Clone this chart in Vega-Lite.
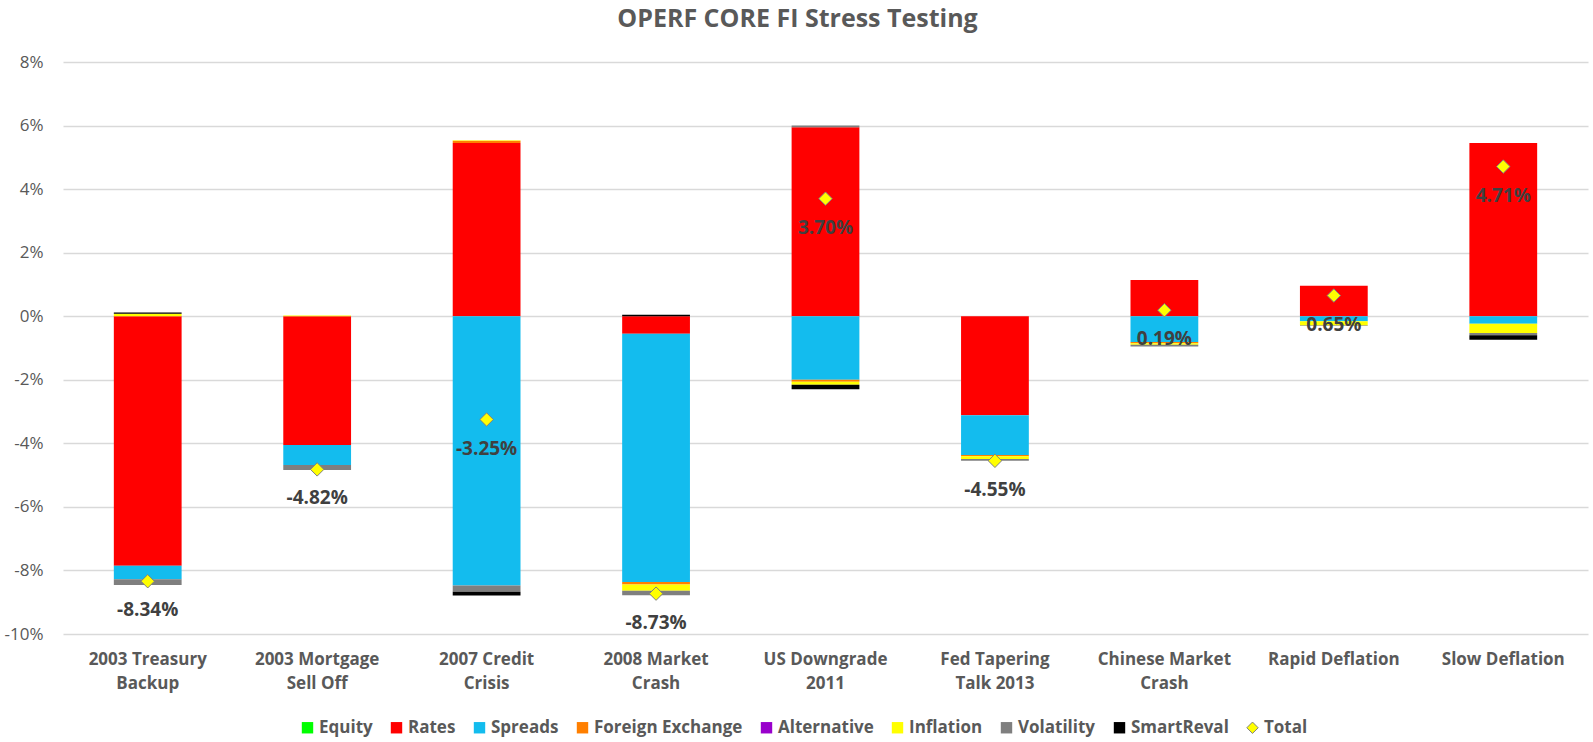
{
  "$schema": "https://vega.github.io/schema/vega-lite/v6.json",
  "autosize": {"type": "none"},
  "width": 1525,
  "height": 572,
  "padding": {"left": 63, "top": 62, "right": 5, "bottom": 108},
  "background": "white",
  "title": {"text": "OPERF CORE FI Stress Testing", "font": "Open Sans", "fontSize": 25, "fontWeight": "bold", "color": "#595959", "anchor": "middle", "dx": -28, "offset": 21},
  "data": {"values": [
    {"scenario": "2003 Treasury\nBackup", "factor": "Rates", "value": -0.0785},
    {"scenario": "2003 Treasury\nBackup", "factor": "Spreads", "value": -0.0043},
    {"scenario": "2003 Treasury\nBackup", "factor": "Inflation", "value": 0.0008},
    {"scenario": "2003 Treasury\nBackup", "factor": "Volatility", "value": -0.0018},
    {"scenario": "2003 Treasury\nBackup", "factor": "SmartReval", "value": 0.0004},
    {"scenario": "2003 Treasury\nBackup", "factor": "Total", "value": -0.0834},
    {"scenario": "2003 Mortgage\nSell Off", "factor": "Rates", "value": -0.0405},
    {"scenario": "2003 Mortgage\nSell Off", "factor": "Spreads", "value": -0.0063},
    {"scenario": "2003 Mortgage\nSell Off", "factor": "Inflation", "value": 0.0002},
    {"scenario": "2003 Mortgage\nSell Off", "factor": "Volatility", "value": -0.0016},
    {"scenario": "2003 Mortgage\nSell Off", "factor": "Total", "value": -0.0482},
    {"scenario": "2007 Credit\nCrisis", "factor": "Rates", "value": 0.0545},
    {"scenario": "2007 Credit\nCrisis", "factor": "Spreads", "value": -0.0847},
    {"scenario": "2007 Credit\nCrisis", "factor": "Foreign Exchange", "value": 0.0007},
    {"scenario": "2007 Credit\nCrisis", "factor": "Inflation", "value": 0.0002},
    {"scenario": "2007 Credit\nCrisis", "factor": "Volatility", "value": -0.0020},
    {"scenario": "2007 Credit\nCrisis", "factor": "SmartReval", "value": -0.0012},
    {"scenario": "2007 Credit\nCrisis", "factor": "Total", "value": -0.0325},
    {"scenario": "2008 Market\nCrash", "factor": "Rates", "value": -0.0055},
    {"scenario": "2008 Market\nCrash", "factor": "Spreads", "value": -0.0781},
    {"scenario": "2008 Market\nCrash", "factor": "Foreign Exchange", "value": -0.0008},
    {"scenario": "2008 Market\nCrash", "factor": "Inflation", "value": -0.0020},
    {"scenario": "2008 Market\nCrash", "factor": "Volatility", "value": -0.0014},
    {"scenario": "2008 Market\nCrash", "factor": "SmartReval", "value": 0.0005},
    {"scenario": "2008 Market\nCrash", "factor": "Total", "value": -0.0873},
    {"scenario": "US Downgrade\n2011", "factor": "Rates", "value": 0.0595},
    {"scenario": "US Downgrade\n2011", "factor": "Spreads", "value": -0.0200},
    {"scenario": "US Downgrade\n2011", "factor": "Foreign Exchange", "value": -0.0006},
    {"scenario": "US Downgrade\n2011", "factor": "Inflation", "value": -0.0010},
    {"scenario": "US Downgrade\n2011", "factor": "Volatility", "value": 0.0005},
    {"scenario": "US Downgrade\n2011", "factor": "SmartReval", "value": -0.0014},
    {"scenario": "US Downgrade\n2011", "factor": "Total", "value": 0.0370},
    {"scenario": "Fed Tapering\nTalk 2013", "factor": "Rates", "value": -0.0312},
    {"scenario": "Fed Tapering\nTalk 2013", "factor": "Spreads", "value": -0.0125},
    {"scenario": "Fed Tapering\nTalk 2013", "factor": "Foreign Exchange", "value": -0.0004},
    {"scenario": "Fed Tapering\nTalk 2013", "factor": "Inflation", "value": -0.0008},
    {"scenario": "Fed Tapering\nTalk 2013", "factor": "Volatility", "value": -0.0006},
    {"scenario": "Fed Tapering\nTalk 2013", "factor": "Total", "value": -0.0455},
    {"scenario": "Chinese Market\nCrash", "factor": "Rates", "value": 0.0114},
    {"scenario": "Chinese Market\nCrash", "factor": "Spreads", "value": -0.0081},
    {"scenario": "Chinese Market\nCrash", "factor": "Foreign Exchange", "value": -0.0004},
    {"scenario": "Chinese Market\nCrash", "factor": "Inflation", "value": -0.0005},
    {"scenario": "Chinese Market\nCrash", "factor": "Volatility", "value": -0.0005},
    {"scenario": "Chinese Market\nCrash", "factor": "Total", "value": 0.0019},
    {"scenario": "Rapid Deflation", "factor": "Rates", "value": 0.0096},
    {"scenario": "Rapid Deflation", "factor": "Spreads", "value": -0.0016},
    {"scenario": "Rapid Deflation", "factor": "Inflation", "value": -0.0013},
    {"scenario": "Rapid Deflation", "factor": "Volatility", "value": -0.0002},
    {"scenario": "Rapid Deflation", "factor": "Total", "value": 0.0065},
    {"scenario": "Slow Deflation", "factor": "Rates", "value": 0.0545},
    {"scenario": "Slow Deflation", "factor": "Spreads", "value": -0.0024},
    {"scenario": "Slow Deflation", "factor": "Inflation", "value": -0.0029},
    {"scenario": "Slow Deflation", "factor": "Volatility", "value": -0.0007},
    {"scenario": "Slow Deflation", "factor": "SmartReval", "value": -0.0014},
    {"scenario": "Slow Deflation", "factor": "Total", "value": 0.0471}
  ]},
  "encoding": {
    "x": {"field": "scenario", "type": "nominal", "sort": null,
      "scale": {"paddingInner": 0.6, "paddingOuter": 0.3},
      "axis": {"title": null, "labelAngle": 0, "labelExpr": "split(datum.label, '\\n')", "labelFont": "Open Sans", "labelFontSize": 17, "labelFontWeight": "bold", "labelColor": "#595959", "labelLineHeight": 24, "labelPadding": 17, "labelBaseline": "top", "ticks": false, "domain": false, "grid": false, "labelLimit": 200}},
    "y": {"field": "value", "type": "quantitative",
      "scale": {"domain": [-0.1, 0.08], "nice": false, "zero": false},
      "axis": {"title": null, "format": ".0%", "labelExpr": "replace(datum.label, '\u2212', '-')", "values": [-0.1, -0.08, -0.06, -0.04, -0.02, 0, 0.02, 0.04, 0.06, 0.08], "labelFont": "Open Sans", "labelFontSize": 17, "labelColor": "#595959", "labelPadding": 20, "ticks": false, "domain": false, "gridColor": "#D9D9D9", "gridWidth": 1.5}}
  },
  "layer": [
    {
      "transform": [
        {"filter": "datum.factor !== 'Total'"},
        {"calculate": "indexof(['Equity','Rates','Spreads','Foreign Exchange','Alternative','Inflation','Volatility','SmartReval'], datum.factor)", "as": "ord"}
      ],
      "mark": {"type": "bar"},
      "encoding": {
        "y": {"field": "value", "type": "quantitative", "stack": "zero"},
        "order": {"field": "ord", "type": "quantitative", "sort": "ascending"},
        "color": {"field": "factor", "type": "nominal",
          "scale": {"domain": ["Equity", "Rates", "Spreads", "Foreign Exchange", "Alternative", "Inflation", "Volatility", "SmartReval", "Total"],
                    "range": ["#00FF00", "#FF0000", "#13BCEE", "#FF7F00", "#9900CC", "#FFFF00", "#7F7F7F", "#000000", "#FFFF00"]},
          "legend": {"title": null, "orient": "none", "direction": "horizontal", "legendX": 236, "legendY": 657,
            "symbolType": "square", "symbolSize": 130, "symbolStrokeWidth": 0, "labelFont": "Open Sans", "labelFontSize": 17, "labelFontWeight": "bold", "labelColor": "#595959", "labelOffset": 3, "columnPadding": 15,
            "encode": {"symbols": {"update": {"shape": {"signal": "datum.value === 'Total' ? 'diamond' : 'square'"}, "stroke": {"signal": "datum.value === 'Total' ? '#7F7F7F' : 'transparent'"}, "strokeWidth": {"value": 1}}}}}
        }
      }
    },
    {
      "transform": [{"filter": "datum.factor === 'Total'"}],
      "mark": {"type": "point", "shape": "diamond", "filled": true, "size": 180, "stroke": "#7F7F7F", "strokeWidth": 1, "opacity": 1},
      "encoding": {
        "color": {"field": "factor", "type": "nominal"}
      }
    },
    {
      "transform": [
        {"filter": "datum.factor === 'Total'"},
        {"calculate": "replace(format(datum.value, '.2%'), '\u2212', '-')", "as": "label"}
      ],
      "mark": {"type": "text", "font": "Open Sans", "fontSize": 19, "fontWeight": "bold", "color": "#404040", "dy": 29, "baseline": "middle", "align": "center"},
      "encoding": {
        "text": {"field": "label", "type": "nominal"}
      }
    }
  ],
  "config": {"view": {"stroke": null}}
}
